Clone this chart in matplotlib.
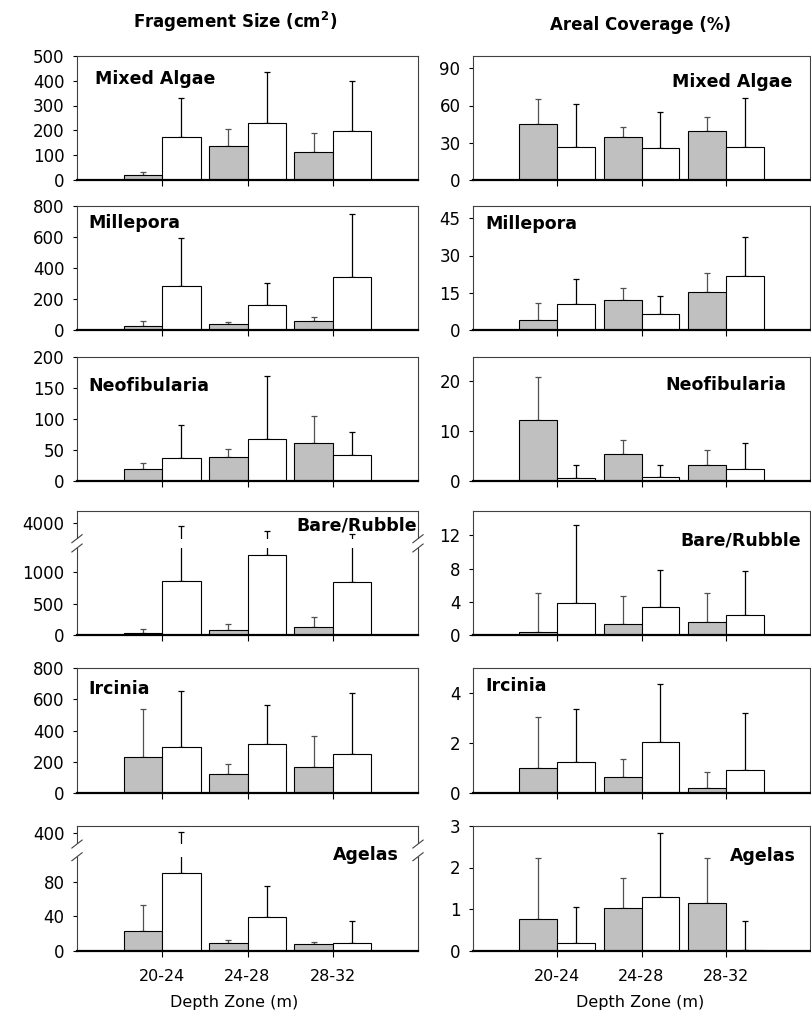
import numpy as np
import matplotlib
matplotlib.use("Agg")
import matplotlib.pyplot as plt

plt.rcParams['font.family'] = ['DejaVu Sans']

# depth zones
zones = ["20-24", "24-28", "28-32"]
taxa = ["Mixed Algae", "Millepora", "Neofibularia", "Bare/Rubble", "Ircinia", "Agelas"]

# fragment size (cm2): mean and upper error, gray and white series
size_gray = {
    "Mixed Algae": [19, 139, 113],
    "Millepora": [30, 43, 58],
    "Neofibularia": [20, 39, 61],
    "Bare/Rubble": [26, 79, 132],
    "Ircinia": [227, 118, 163],
    "Agelas": [22.5, 8.9, 7],
}
size_gray_err = {
    "Mixed Algae": [12, 67, 75],
    "Millepora": [26, 8, 24],
    "Neofibularia": [9, 12, 43],
    "Bare/Rubble": [64, 90, 159],
    "Ircinia": [311, 64, 204],
    "Agelas": [30.5, 3.1, 2.7],
}
size_white = {
    "Mixed Algae": [172, 231, 198],
    "Millepora": [281, 159, 341],
    "Neofibularia": [37, 68, 42],
    "Bare/Rubble": [857, 1270, 852],
    "Ircinia": [292, 311, 249],
    "Agelas": [90.5, 39, 8.9],
}
size_white_err = {
    "Mixed Algae": [158, 203, 199],
    "Millepora": [311, 146, 406],
    "Neofibularia": [53, 100, 37],
    "Bare/Rubble": [2885, 1955, 2082],
    "Ircinia": [365, 251, 395],
    "Agelas": [327.5, 36, 25],
}

# areal coverage (%)
cov_gray = {
    "Mixed Algae": [45, 34.7, 39.5],
    "Millepora": [3.9, 12, 15.2],
    "Neofibularia": [12.3, 5.5, 3.2],
    "Bare/Rubble": [0.4, 1.36, 1.52],
    "Ircinia": [0.99, 0.62, 0.19],
    "Agelas": [0.75, 1.02, 1.15],
}
cov_gray_err = {
    "Mixed Algae": [20, 8.3, 11.5],
    "Millepora": [6.9, 4.8, 7.6],
    "Neofibularia": [8.6, 2.7, 3.0],
    "Bare/Rubble": [4.64, 3.32, 3.6],
    "Ircinia": [2.05, 0.72, 0.65],
    "Agelas": [1.49, 0.73, 1.07],
}
cov_white = {
    "Mixed Algae": [27, 25.5, 26.3],
    "Millepora": [10.6, 6.5, 21.8],
    "Neofibularia": [0.67, 0.87, 2.5],
    "Bare/Rubble": [3.84, 3.36, 2.36],
    "Ircinia": [1.24, 2.06, 0.92],
    "Agelas": [0.18, 1.28, 0.02],
}
cov_white_err = {
    "Mixed Algae": [34, 29.3, 40],
    "Millepora": [9.8, 7.2, 15.8],
    "Neofibularia": [2.5, 2.3, 5.1],
    "Bare/Rubble": [9.36, 4.48, 5.32],
    "Ircinia": [2.13, 2.3, 2.29],
    "Agelas": [0.88, 1.54, 0.7],
}

# axis settings
size_ylim = {"Mixed Algae": 500, "Millepora": 800, "Neofibularia": 200,
             "Bare/Rubble": 5228, "Ircinia": 800, "Agelas": 481}
size_ticks = {"Mixed Algae": [0, 100, 200, 300, 400, 500],
              "Millepora": [0, 200, 400, 600, 800],
              "Neofibularia": [0, 50, 100, 150, 200],
              "Bare/Rubble": [0, 500, 1000, 4000],
              "Ircinia": [0, 200, 400, 600, 800],
              "Agelas": [0, 40, 80, 400]}
# broken axes: (break value, compression, white gap lo, hi)
size_breaks = {"Bare/Rubble": (1350, 0.1637, 1576, 2481),
               "Agelas": (105, 0.1053, 142, 282)}
cov_ylim = {"Mixed Algae": 100, "Millepora": 50, "Neofibularia": 25,
            "Bare/Rubble": 15, "Ircinia": 5, "Agelas": 3}
cov_ticks = {"Mixed Algae": [0, 30, 60, 90], "Millepora": [0, 15, 30, 45],
             "Neofibularia": [0, 10, 20], "Bare/Rubble": [0, 4, 8, 12],
             "Ircinia": [0, 2, 4], "Agelas": [0, 1, 2, 3]}

# label placement (x, y in axes fraction, ha)
size_lab = {"Mixed Algae": (0.053, 0.81, "left"), "Millepora": (0.032, 0.86, "left"),
            "Neofibularia": (0.032, 0.76, "left"), "Bare/Rubble": (0.997, 0.88, "right"),
            "Ircinia": (0.032, 0.83, "left"), "Agelas": (0.944, 0.766, "right")}
cov_lab = {"Mixed Algae": (0.947, 0.79, "right"), "Millepora": (0.038, 0.85, "left"),
           "Neofibularia": (0.929, 0.775, "right"), "Bare/Rubble": (0.973, 0.76, "right"),
           "Ircinia": (0.036, 0.855, "left"), "Agelas": (0.959, 0.76, "right")}


def make_break(b, k):
    def fwd(v):
        v = np.asarray(v, float)
        return np.where(v <= b, v, b + (v - b) * k)

    def inv(u):
        u = np.asarray(u, float)
        return np.where(u <= b, u, b + (u - b) / k)
    return fwd, inv


W, H = 811, 1034
fig = plt.figure(figsize=(W / 100, H / 100), dpi=100)

row_tops = [55.7, 205.7, 356.5, 510.5, 668.3, 826]
ax_h = 124.5
col_x = [(77, 341), (473, 337)]

x = np.arange(1, 4)
bw = 0.45


def draw_panel(ax, gray, gerr, white, werr, ylim, ticks, lab, brk, bottom):
    if brk is not None:
        ax.set_yscale('function', functions=make_break(brk[0], brk[1]))
    ax.bar(x - bw / 2, gray, bw, color='#c0c0c0', edgecolor='black', lw=0.8, zorder=2)
    ax.bar(x + bw / 2, white, bw, color='white', edgecolor='black', lw=0.8, zorder=2)
    ax.errorbar(x - bw / 2, gray, yerr=[np.zeros(3), gerr], fmt='none',
                ecolor='#505050', elinewidth=0.9, capsize=2.5, capthick=0.9, zorder=1)
    ax.errorbar(x + bw / 2, white, yerr=[np.zeros(3), werr], fmt='none',
                ecolor='black', elinewidth=0.9, capsize=2.5, capthick=0.9, zorder=1)
    ax.set_xlim(0, 4)
    ax.set_ylim(0, ylim)
    ax.set_yticks(ticks)
    ax.set_yticklabels([str(t) for t in ticks])
    ax.yaxis.set_minor_locator(matplotlib.ticker.NullLocator())
    ax.set_xticks(x)
    if bottom:
        ax.set_xticklabels(zones)
    else:
        ax.set_xticklabels([])
    ax.tick_params(axis='y', length=3, width=0.8, pad=6, labelsize=12, colors='black')
    ax.tick_params(axis='x', length=4, width=0.8, pad=9, labelsize=11.5, colors='black')
    for s in ['left', 'right', 'top']:
        ax.spines[s].set_color('#404040')
        ax.spines[s].set_linewidth(0.8)
    ax.spines['bottom'].set_color('black')
    ax.spines['bottom'].set_linewidth(1.6)
    lx, ly, ha = lab
    ax.text(lx, ly, ax.get_label(), transform=ax.transAxes, ha=ha, va='center',
            fontsize=12.5, fontweight='bold', zorder=10)
    if brk is not None:
        lo, hi = brk[2], brk[3]
        ax.axhspan(lo, hi, xmin=-0.02, xmax=1.02, color='white', zorder=6, clip_on=False, lw=0)
        to_ax = ax.transData + ax.transAxes.inverted()
        for yv in (lo, hi):
            yf = to_ax.transform((1, yv))[1]
            for xs in (0, 1):
                ax.plot([xs - 0.015, xs + 0.015], [yf - 0.032, yf + 0.032],
                        transform=ax.transAxes, color='#404040', lw=0.8,
                        clip_on=False, zorder=7)


for r, name in enumerate(taxa):
    bottom = 1 - (row_tops[r] + ax_h) / H
    for c in range(2):
        x0, w = col_x[c]
        ax = fig.add_axes([x0 / W, bottom, w / W, ax_h / H], label=name)
        if c == 0:
            draw_panel(ax, size_gray[name], size_gray_err[name], size_white[name],
                       size_white_err[name], size_ylim[name], size_ticks[name],
                       size_lab[name], size_breaks.get(name), r == 5)
        else:
            draw_panel(ax, cov_gray[name], cov_gray_err[name], cov_white[name],
                       cov_white_err[name], cov_ylim[name], cov_ticks[name],
                       cov_lab[name], None, r == 5)

fig.text(235 / W, 1 - 22 / H, "Fragement Size (cm$^\\mathbf{2}$)", ha='center', va='center',
         fontsize=12, fontweight='bold')
fig.text(640 / W, 1 - 25 / H, "Areal Coverage (%)", ha='center', va='center',
         fontsize=12, fontweight='bold')
fig.text(234 / W, 1 - 1003 / H, "Depth Zone (m)", ha='center', va='center', fontsize=11.5)
fig.text(640 / W, 1 - 1003 / H, "Depth Zone (m)", ha='center', va='center', fontsize=11.5)

fig.savefig("out.png", dpi=100)
